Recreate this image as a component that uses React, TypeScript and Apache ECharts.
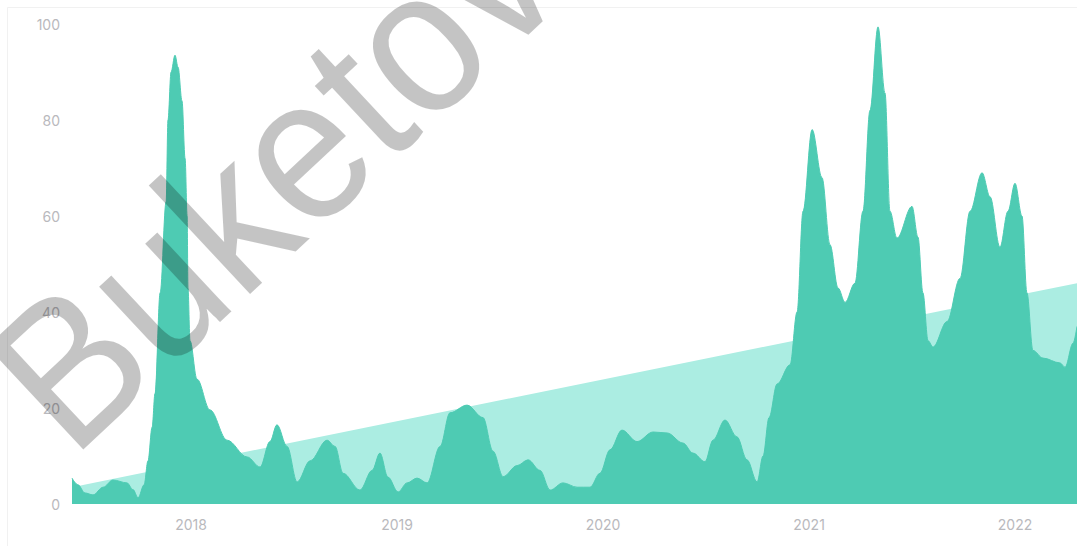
import React, { useEffect, useRef } from "react";
import * as echarts from "echarts";

// Decimal-year positions and interest values (0-100)
const interestYears: number[] = [
  2017.422, 2017.451, 2017.485, 2017.524, 2017.573, 2017.621, 2017.689, 2017.718, 2017.743, 2017.772,
  2017.791, 2017.811, 2017.825, 2017.85, 2017.879, 2017.888, 2017.903, 2017.922, 2017.937, 2017.956,
  2017.971, 2017.981, 2017.985, 2017.995, 2018.029, 2018.092, 2018.175, 2018.272, 2018.335, 2018.383,
  2018.417, 2018.466, 2018.515, 2018.578, 2018.66, 2018.699, 2018.738, 2018.82, 2018.879, 2018.917,
  2018.956, 2019.005, 2019.049, 2019.097, 2019.146, 2019.209, 2019.257, 2019.34, 2019.417, 2019.466,
  2019.515, 2019.583, 2019.636, 2019.694, 2019.743, 2019.806, 2019.874, 2019.937, 2019.985, 2020.034,
  2020.092, 2020.165, 2020.243, 2020.311, 2020.388, 2020.437, 2020.495, 2020.534, 2020.592, 2020.65,
  2020.699, 2020.748, 2020.777, 2020.806, 2020.845, 2020.908, 2020.942, 2020.971, 2021.015, 2021.063,
  2021.102, 2021.141, 2021.175, 2021.223, 2021.262, 2021.296, 2021.335, 2021.369, 2021.393, 2021.427,
  2021.5, 2021.529, 2021.553, 2021.578, 2021.602, 2021.67, 2021.733, 2021.782, 2021.84, 2021.879,
  2021.927, 2021.966, 2022.0, 2022.034, 2022.058, 2022.087, 2022.136, 2022.218, 2022.243, 2022.282,
  2022.301,
];
const interestValues: number[] = [
  5.4, 4, 2.3, 1.9, 3.5, 5.0, 4.4, 3, 1.3, 4,
  9, 16, 23, 44, 63, 80, 90, 93.5, 91, 84,
  72, 60, 45, 34, 26, 19.6, 13.3, 9.8, 7.7, 13,
  16.5, 12, 4.6, 9, 13.3, 12, 6.4, 2.9, 7, 10.6,
  5.6, 2.5, 4.4, 5.4, 4.4, 12, 19, 20.6, 18, 11,
  5.7, 8, 9.2, 7, 2.9, 4.4, 3.5, 3.5, 6.4, 11.3,
  15.4, 13, 15, 14.8, 12.7, 10.6, 8.8, 13.3, 17.5, 14,
  9.2, 4.6, 10, 18, 25, 29, 40, 61, 78, 68,
  54, 45, 42, 46, 61, 82, 99.4, 85.6, 61, 55.4,
  62, 55.6, 44, 34, 32.7, 38, 47, 61, 69, 64,
  53.5, 61, 66.8, 60, 44, 32, 30.4, 29.4, 28.5, 33.5,
  37,
];

// Straight trend band
const trendYears: number[] = [2017.422, 2022.301];
const trendValues: number[] = [3.5, 46];

const yearTicks: number[] = [2018, 2019, 2020, 2021, 2022];
const watermarkText = "Buketov";

export default function App() {
  const ref = useRef<HTMLDivElement>(null);

  useEffect(() => {
    if (!ref.current) return;
    const chart = echarts.init(ref.current, null, { renderer: "svg" });
    const main = interestYears.map((x, i) => [x, interestValues[i]]);
    const trend = trendYears.map((x, i) => [x, trendValues[i]]);
    const labelStyle = {
      color: "#b9b9bd",
      fontSize: 14,
      fontFamily: "Inter, 'Noto Sans', sans-serif",
    };
    chart.setOption({
      animation: false,
      backgroundColor: "#ffffff",
      grid: { left: 72, right: 0, top: 24, bottom: 42 },
      xAxis: {
        type: "value",
        min: 2017.422,
        max: 2022.301,
        axisLine: { show: false },
        axisTick: { show: false },
        splitLine: { show: false },
        axisLabel: {
          ...labelStyle,
          margin: 13,
          customValues: yearTicks,
          formatter: (v: number) => String(Math.round(v)),
        },
      },
      yAxis: {
        type: "value",
        min: 0,
        max: 100,
        interval: 20,
        axisLine: { show: false },
        axisTick: { show: false },
        splitLine: { show: false },
        axisLabel: { ...labelStyle, margin: 12 },
      },
      series: [
        {
          type: "line",
          data: trend,
          symbol: "none",
          lineStyle: { width: 0 },
          areaStyle: { color: "#abede2", opacity: 1 },
          z: 1,
        },
        {
          type: "line",
          data: main,
          symbol: "none",
          smooth: 0.35,
          smoothMonotone: "x",
          lineStyle: { width: 1, color: "#4ecbb3" },
          areaStyle: { color: "#4ecbb3", opacity: 1 },
          z: 2,
        },
      ],
      graphic: [
        {
          type: "rect",
          shape: { x: 7.5, y: 7.5, width: 1200, height: 1000 },
          style: { fill: "none", stroke: "#f1f1f1", lineWidth: 1 },
          z: 0,
          silent: true,
        },
        {
          type: "text",
          x: 273,
          y: 176,
          rotation: (43 * Math.PI) / 180,
          scaleX: 0.92,
          z: 100,
          silent: true,
          style: {
            text: watermarkText,
            font: "normal 205px 'Liberation Sans', Arial, sans-serif",
            fill: "rgba(0,0,0,0.23)",
            textAlign: "center",
            textVerticalAlign: "middle",
            align: "center",
            verticalAlign: "middle",
          },
        },
      ],
    });
    return () => chart.dispose();
  }, []);

  return (
    <div
      ref={ref}
      style={{ position: "fixed", left: 0, top: 0, width: 1077, height: 546 }}
    />
  );
}
